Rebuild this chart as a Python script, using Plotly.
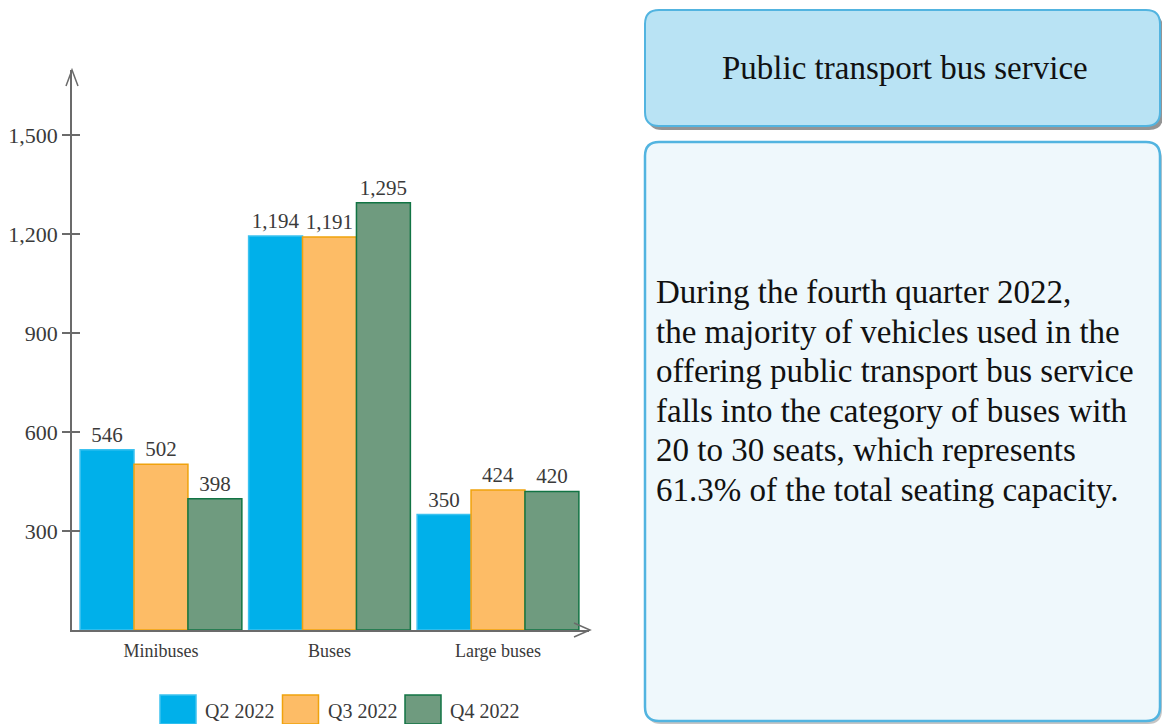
import plotly.graph_objects as go

# ---------------- data ----------------
categories = ["Minibuses", "Buses", "Large buses"]
series_names = ["Q2 2022", "Q3 2022", "Q4 2022"]
q2_values = [546, 1194, 350]
q3_values = [502, 1191, 424]
q4_values = [398, 1295, 420]
y_tickvals = [300, 600, 900, 1200, 1500]
y_ticktext = ["300", "600", "900", "1,200", "1,500"]
panel_title = "Public transport bus service"
panel_lines = [
    "During the fourth quarter 2022,",
    "the majority of vehicles used in the",
    "offering public transport bus service",
    "falls into the category of buses with",
    "20 to 30 seats, which represents",
    "61.3% of the total seating capacity.",
]

# ---------------- styling ----------------
W, H = 1162, 724
FONT = "Liberation Serif, Times New Roman, serif"
TXT = "#3a3a3a"
AX = "#6b6b6b"
fills = ["#00B0EA", "#FDBC66", "#6F9B7F"]
borders = ["#3CC2F0", "#F0A20C", "#127444"]


def px(x):
    return x / W


def py(y):
    return 1 - y / H


fig = go.Figure()
for name, vals, fc, lc in zip(series_names, [q2_values, q3_values, q4_values], fills, borders):
    fig.add_trace(go.Bar(
        x=categories, y=vals, name=name,
        marker=dict(color=fc, line=dict(color=lc, width=1.5)),
        texttemplate="%{y:,}", textposition="outside",
        textfont=dict(family=FONT, size=21, color=TXT),
        constraintext="none", cliponaxis=False, showlegend=False,
    ))
# invisible carrier so the overlaid tick axis is drawn
fig.add_trace(go.Scatter(x=[categories[0]], y=[0], yaxis="y2", mode="none",
                         showlegend=False, hoverinfo="skip"))

fig.update_layout(
    width=W, height=H, autosize=False,
    margin=dict(l=0, r=0, t=0, b=0),
    paper_bgcolor="white", plot_bgcolor="white",
    barmode="group", bargap=0.04, bargroupgap=0,
    font=dict(family=FONT, color=TXT),
    xaxis=dict(
        domain=[px(72), px(589)], range=[-0.528, 2.54],
        showline=True, linecolor=AX, linewidth=1.5,
        ticks="", showgrid=False, zeroline=False,
        ticklabelstandoff=4,
        tickfont=dict(family=FONT, size=18, color=TXT),
    ),
    yaxis=dict(
        domain=[py(630), py(70)], range=[0, 1697],
        showline=True, linecolor=AX, linewidth=1.5,
        tickvals=y_tickvals, ticktext=y_ticktext,
        ticks="outside", ticklen=8, tickwidth=1.5, tickcolor=AX,
        ticklabelstandoff=0,
        showgrid=False, zeroline=False,
        tickfont=dict(family=FONT, size=22, color=TXT),
    ),
    yaxis2=dict(
        overlaying="y", anchor="x", side="left", range=[0, 1697],
        tickvals=y_tickvals, showticklabels=False,
        ticks="inside", ticklen=8, tickwidth=1.5, tickcolor=AX,
        showgrid=False, zeroline=False, showline=False,
    ),
)

shapes = []
# axis arrowheads
shapes.append(dict(type="path", xref="paper", yref="paper",
                   path=f"M {px(66)},{py(86)} L {px(72)},{py(70)} L {px(78)},{py(86)}",
                   line=dict(color=AX, width=1.5)))
shapes.append(dict(type="path", xref="paper", yref="paper",
                   path=f"M {px(574)},{py(623)} L {px(590)},{py(630)} L {px(574)},{py(637)}",
                   line=dict(color=AX, width=1.5)))


def rrect(x0, y0, x1, y1, r):
    return (f"M {px(x0 + r)},{py(y0)} L {px(x1 - r)},{py(y0)} "
            f"Q {px(x1)},{py(y0)} {px(x1)},{py(y0 + r)} L {px(x1)},{py(y1 - r)} "
            f"Q {px(x1)},{py(y1)} {px(x1 - r)},{py(y1)} L {px(x0 + r)},{py(y1)} "
            f"Q {px(x0)},{py(y1)} {px(x0)},{py(y1 - r)} L {px(x0)},{py(y0 + r)} "
            f"Q {px(x0)},{py(y0)} {px(x0 + r)},{py(y0)} Z")


# panels (shadow + body)
shapes.append(dict(type="path", xref="paper", yref="paper", path=rrect(648, 14, 1163, 130, 14),
                   fillcolor="rgba(60,60,60,0.55)", line=dict(width=0)))
shapes.append(dict(type="path", xref="paper", yref="paper", path=rrect(645, 10, 1160, 126, 14),
                   fillcolor="#B9E3F4", line=dict(color="#52B4E0", width=2)))
shapes.append(dict(type="path", xref="paper", yref="paper", path=rrect(647, 145, 1162, 724, 14),
                   fillcolor="rgba(90,90,90,0.35)", line=dict(width=0)))
shapes.append(dict(type="path", xref="paper", yref="paper", path=rrect(645, 142, 1160, 721, 14),
                   fillcolor="#EFF8FC", line=dict(color="#52B4E0", width=2.5)))

# legend swatches
leg_x0, leg_step = 160, 122.5
for i, (name, fc, lc) in enumerate(zip(series_names, fills, borders)):
    x0 = leg_x0 + i * leg_step
    shapes.append(dict(type="rect", xref="paper", yref="paper",
                       x0=px(x0), x1=px(x0 + 36), y0=py(724), y1=py(695),
                       fillcolor=fc, line=dict(color=lc, width=1.5)))

fig.update_layout(shapes=shapes)

annotations = []
for i, name in enumerate(series_names):
    x0 = leg_x0 + i * leg_step
    annotations.append(dict(x=px(x0 + 43), y=py(711), xref="paper", yref="paper",
                            text=name, showarrow=False, xanchor="left", yanchor="middle",
                            font=dict(family=FONT, size=20, color=TXT)))
annotations.append(dict(x=px(905), y=py(68), xref="paper", yref="paper",
                        text=panel_title, showarrow=False, xanchor="center", yanchor="middle",
                        font=dict(family=FONT, size=33, color="#111111")))
for i, line in enumerate(panel_lines):
    annotations.append(dict(x=px(654), y=py(292 + i * 39.6), xref="paper", yref="paper",
                            text=line, showarrow=False, align="left",
                            xanchor="left", yanchor="middle",
                            font=dict(family=FONT, size=33, color="#111111")))
fig.update_layout(annotations=annotations)

fig.write_html("out.html", config={"displayModeBar": False},
               post_script="document.body.style.margin='0';document.body.style.overflow='hidden';")
